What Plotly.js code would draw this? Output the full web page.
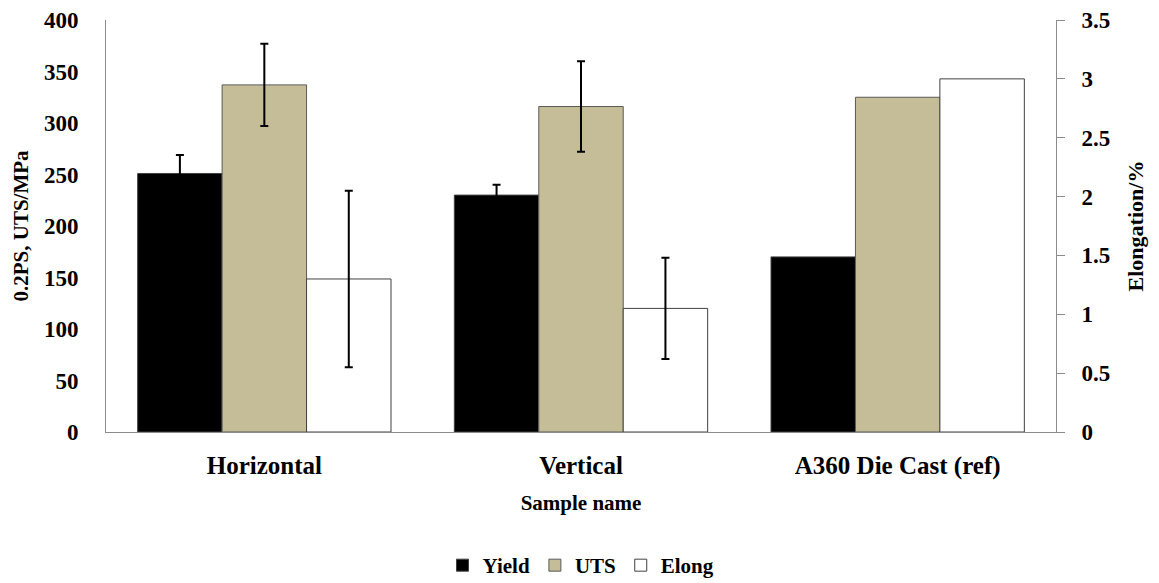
<!DOCTYPE html>
<html>
<head>
<meta charset="utf-8">
<script src="https://cdn.plot.ly/plotly-3.0.1.min.js"></script>
<style>
  html, body { margin: 0; padding: 0; background: #fff; }
  #chart { width: 1159px; height: 583px; }
</style>
</head>
<body>
<div id="chart"></div>
<script>
var samples = ['Horizontal', 'Vertical', 'A360 Die Cast (ref)'];

// the reference alloy has no error bars
var yieldVals = [251, 230, 170];
var yieldErr = [18, 10, NaN];

var utsVals = [337, 316, 325];
var utsErr = [40, 44, NaN];

var elongVals = [1.3, 1.05, 3.0];
var elongErr = [0.75, 0.43, NaN];

var leftTicks = [0, 50, 100, 150, 200, 250, 300, 350, 400];
var rightTicks = [0, 0.5, 1, 1.5, 2, 2.5, 3, 3.5];

var font = 'Liberation Serif, Times New Roman, serif';

function errBars(arr)
{
    return {
        type: 'data',
        array: arr,
        visible: true,
        color: '#000',
        thickness: 2,
        width: 4
    };
}

var trace1 = {
    name: 'Yield',
    x: samples,
    y: yieldVals,
    type: 'bar',
    offsetgroup: '1',
    marker: { color: '#000000', line: { color: '#404040', width: 1 } },
    error_y: errBars(yieldErr)
};

var trace2 = {
    name: 'UTS',
    x: samples,
    y: utsVals,
    type: 'bar',
    offsetgroup: '2',
    marker: { color: '#C4BD97', line: { color: '#5a5a5a', width: 1 } },
    error_y: errBars(utsErr)
};

var trace3 = {
    name: 'Elong',
    x: samples,
    y: elongVals,
    type: 'bar',
    yaxis: 'y2',
    offsetgroup: '3',
    marker: { color: '#FFFFFF', line: { color: '#404040', width: 1 } },
    error_y: errBars(elongErr)
};

var layout = {
    width: 1159,
    height: 583,
    margin: { l: 106, r: 103, t: 20, b: 151 },
    paper_bgcolor: '#fff',
    plot_bgcolor: '#fff',
    barmode: 'group',
    bargap: 0.2,
    bargroupgap: 0,
    font: { family: font, color: '#000', size: 18 },
    showlegend: true,
    legend: {
        orientation: 'h',
        x: 0.5,
        xref: 'paper',
        xanchor: 'center',
        y: 0.03,
        yref: 'container',
        yanchor: 'middle',
        font: { family: font, size: 21, weight: 'bold' },
        itemwidth: 30,
        tracegroupgap: 0
    },
    xaxis: {
        automargin: false,
        showline: true,
        linecolor: '#8c8c8c',
        linewidth: 1,
        ticks: '',
        showgrid: false,
        zeroline: false,
        ticklabelstandoff: 11,
        tickfont: { family: font, size: 25, weight: 'bold' },
        title: {
            text: 'Sample name',
            font: { family: font, size: 21, weight: 'bold' },
            standoff: 16
        }
    },
    yaxis: {
        automargin: false,
        range: [0, 400],
        tickvals: leftTicks,
        showline: true,
        linecolor: '#8c8c8c',
        linewidth: 1,
        ticks: '',
        showgrid: false,
        zeroline: false,
        ticklabelstandoff: 22,
        tickfont: { family: font, size: 23, weight: 'bold' },
        title: {
            text: '0.2PS, UTS/MPa',
            font: { family: font, size: 21, weight: 'bold' },
            standoff: 9
        }
    },
    yaxis2: {
        automargin: false,
        range: [0, 3.5],
        tickvals: rightTicks,
        overlaying: 'y',
        side: 'right',
        showline: true,
        linecolor: '#8c8c8c',
        linewidth: 1,
        ticks: 'outside',
        ticklen: 8,
        tickcolor: '#8c8c8c',
        showgrid: false,
        zeroline: false,
        ticklabelstandoff: 12,
        tickfont: { family: font, size: 23, weight: 'bold' },
        title: {
            text: 'Elongation/%',
            font: { family: font, size: 22, weight: 'bold' },
            standoff: 18
        }
    }
};

Plotly.newPlot('chart', [trace1, trace2, trace3], layout, { staticPlot: true });
</script>
</body>
</html>
